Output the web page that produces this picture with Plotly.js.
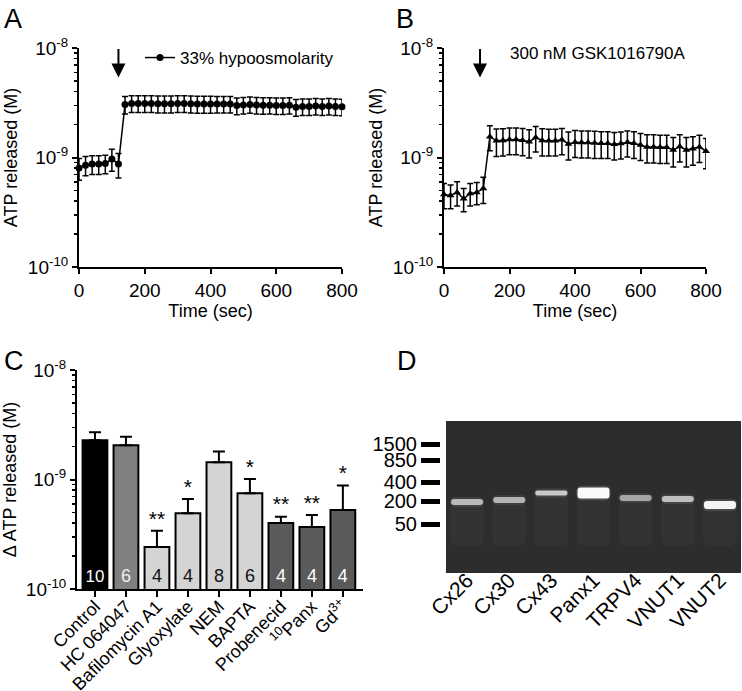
<!DOCTYPE html>
<html>
<head>
<meta charset="utf-8">
<script src="https://cdn.plot.ly/plotly-3.0.1.min.js"></script>
<style>
  html, body { margin: 0; padding: 0; background: #fff; }
  #chart { width: 742px; height: 691px; }
</style>
</head>
<body>
<div id="chart"></div>
<script>
// Panel A / B: time course (sec) of ATP released (M)
const timeSec = [0, 20, 40, 60, 80, 100, 120, 140, 160, 180, 200, 220, 240, 260, 280, 300, 320, 340, 360, 380, 400,
                 420, 440, 460, 480, 500, 520, 540, 560, 580, 600, 620, 640, 660, 680, 700, 720, 740, 760, 780, 800];

const hypoNM = [0.80, 0.85, 0.87, 0.87, 0.88, 0.97, 0.87, 3.05, 3.12, 3.12, 3.12, 3.12, 3.10, 3.10, 3.10, 3.12, 3.12, 3.10, 3.08, 3.08, 3.08,
                3.08, 3.08, 3.08, 2.98, 3.02, 3.05, 3.02, 3.00, 3.00, 2.98, 2.98, 3.00, 2.88, 2.92, 2.92, 2.95, 2.92, 2.95, 2.92, 2.90];
const hypoErrNM = [0.18, 0.17, 0.17, 0.17, 0.17, 0.22, 0.22, 0.55, 0.55, 0.55, 0.55, 0.55, 0.55, 0.55, 0.55, 0.55, 0.55, 0.55, 0.54, 0.54, 0.54,
                   0.53, 0.53, 0.53, 0.52, 0.52, 0.52, 0.52, 0.52, 0.51, 0.51, 0.51, 0.51, 0.50, 0.50, 0.50, 0.50, 0.50, 0.50, 0.50, 0.50];

const gskNM = [0.46, 0.45, 0.48, 0.42, 0.47, 0.48, 0.52, 1.55, 1.42, 1.43, 1.46, 1.46, 1.44, 1.39, 1.52, 1.43, 1.42, 1.42, 1.45, 1.33, 1.38,
               1.37, 1.37, 1.36, 1.35, 1.35, 1.32, 1.34, 1.38, 1.35, 1.30, 1.25, 1.25, 1.24, 1.24, 1.17, 1.26, 1.17, 1.20, 1.25, 1.14];
const gskErrNM = [0.12, 0.11, 0.12, 0.10, 0.11, 0.11, 0.14, 0.40, 0.40, 0.40, 0.40, 0.40, 0.40, 0.40, 0.40, 0.40, 0.39, 0.39, 0.39, 0.38, 0.38,
                  0.38, 0.38, 0.38, 0.37, 0.37, 0.37, 0.37, 0.37, 0.37, 0.36, 0.36, 0.36, 0.36, 0.36, 0.35, 0.35, 0.35, 0.35, 0.35, 0.35];

const arrowTimeA = 120;
const arrowTimeB = 110;

// Panel C: delta ATP released per treatment
const treatments = ['Control', 'HC 064047', 'Bafilomycin A1', 'Glyoxylate', 'NEM', 'BAPTA', 'Probenecid', '<sup>10</sup>Panx', 'Gd<sup>3+</sup>'];
const deltaNM = [2.28, 2.05, 0.242, 0.492, 1.44, 0.75, 0.40, 0.368, 0.527];
const deltaErrNM = [0.42, 0.41, 0.098, 0.173, 0.36, 0.26, 0.058, 0.107, 0.353];
const nCells = ['10', '6', '4', '4', '8', '6', '4', '4', '4'];
const signif = ['', '', '**', '*', '', '*', '**', '**', '*'];
const barColors = ['#000000', '#808080', '#d4d4d4', '#d4d4d4', '#d4d4d4', '#d4d4d4', '#5a5a5a', '#5a5a5a', '#5a5a5a'];
const nColors = ['#ffffff', '#eeeeee', '#111111', '#111111', '#111111', '#111111', '#ffffff', '#ffffff', '#ffffff'];

// Panel D: RT-PCR gel
const lanes = ['Cx26', 'Cx30', 'Cx43', 'Panx1', 'TRPV4', 'VNUT1', 'VNUT2'];
const bandMigration = [81, 79, 72, 72, 77, 78, 84];
const bandThickness = [6, 6, 5, 11, 6, 6, 8];
const bandIntensity = [185, 180, 200, 250, 165, 190, 245];
const ladderLabels = ['1500', '850', '400', '200', '50'];
const ladderMigration = [23, 39, 61, 80, 103];

const FONT = 'Liberation Sans, Arial, sans-serif';
const W = 742, H = 691;
const px = v => v / W;
const py = v => 1 - v / H;

const toM = arr => arr.map(v => v * 1e-9);
const decades = [1e-10, 1e-9, 1e-8];
const decadeText = ['10<sup>-10</sup>', '10<sup>-9</sup>', '10<sup>-8</sup>'];
const minorVals = [];
[1e-10, 1e-9].forEach(d => { for (let k = 2; k <= 9; k++) minorVals.push(k * d); });

function logAxis(domain, title) {
    return {
        domain: domain, type: 'log', range: [-10, -8],
        showline: true, linewidth: 2, linecolor: '#000',
        showgrid: false, zeroline: false,
        tickmode: 'array', tickvals: decades, ticktext: decadeText,
        ticks: 'outside', ticklen: 5, tickwidth: 2, tickcolor: '#000',
        minor: { tickmode: 'array', tickvals: minorVals, ticks: 'outside', ticklen: 3, tickwidth: 1.5, tickcolor: '#000', showgrid: false },
        tickfont: { size: 19, color: '#000' },
        title: { text: title, font: { size: 18, color: '#000' }, standoff: 6 }
    };
}

function timeAxis(domain) {
    return {
        domain: domain, range: [0, 800],
        showline: true, linewidth: 2, linecolor: '#000',
        showgrid: false, zeroline: false,
        tickmode: 'array', tickvals: [0, 200, 400, 600, 800],
        ticks: 'outside', ticklen: 5, tickwidth: 2, tickcolor: '#000',
        tickfont: { size: 19, color: '#000' },
        title: { text: 'Time (sec)', font: { size: 18, color: '#000' }, standoff: 2 }
    };
}

const traceA = {
    x: timeSec, y: toM(hypoNM), xaxis: 'x', yaxis: 'y',
    name: '33% hypoosmolarity', mode: 'lines+markers', type: 'scatter',
    line: { color: '#000', width: 1.5 },
    marker: { symbol: 'circle', size: 7, color: '#000' },
    error_y: { type: 'data', array: toM(hypoErrNM), color: '#000', thickness: 1.5, width: 3 },
    cliponaxis: false
};

const traceB = {
    x: timeSec, y: toM(gskNM), xaxis: 'x2', yaxis: 'y2',
    name: '300 nM GSK1016790A', showlegend: false, mode: 'lines+markers', type: 'scatter',
    line: { color: '#000', width: 1.5 },
    marker: { symbol: 'triangle-up', size: 7, color: '#000' },
    error_y: { type: 'data', array: toM(gskErrNM), color: '#000', thickness: 1.5, width: 3 },
    cliponaxis: false
};

const traceC = {
    x: treatments, y: toM(deltaNM), xaxis: 'x3', yaxis: 'y3',
    type: 'bar', showlegend: false, width: 0.8,
    marker: { color: barColors, line: { color: '#000', width: 2 } },
    error_y: { type: 'data', symmetric: false, array: toM(deltaErrNM), arrayminus: deltaNM.map(() => 0),
               color: '#000', thickness: 2, width: 6 },
    text: nCells, textposition: 'inside', insidetextanchor: 'start',
    textfont: { size: 18, color: nColors }, textangle: 0
};

const starsC = {
    x: treatments, y: deltaNM.map((v, i) => (v + deltaErrNM[i]) * 1e-9), xaxis: 'x3', yaxis: 'y3',
    type: 'scatter', mode: 'text', text: signif, textposition: 'top center',
    textfont: { size: 21, color: '#000' }, showlegend: false, cliponaxis: false
};

// gel: smear, glow and band as floating bars
const smearD = {
    x: lanes, base: bandMigration, y: bandMigration.map(m => 125 - m), xaxis: 'x4', yaxis: 'y4',
    type: 'bar', width: 0.8, showlegend: false,
    marker: { color: 'rgba(255,255,255,0.03)', line: { width: 0 }, cornerradius: 8 }
};
const glowD = {
    x: lanes, base: bandMigration.map((m, i) => m - bandThickness[i] / 2 - 2), y: bandThickness.map(t => t + 4),
    xaxis: 'x4', yaxis: 'y4', type: 'bar', width: 0.82, showlegend: false,
    marker: { color: bandIntensity.map(g => `rgba(${g},${g},${g},0.12)`), line: { width: 0 }, cornerradius: 5 }
};
const bandD = {
    x: lanes, base: bandMigration.map((m, i) => m - bandThickness[i] / 2), y: bandThickness,
    xaxis: 'x4', yaxis: 'y4', type: 'bar', width: 0.76, showlegend: false,
    marker: { color: bandIntensity.map(g => `rgb(${g},${g},${g})`), line: { width: 0 }, cornerradius: 3 }
};

const letter = (t, x, y) => ({
    text: t, xref: 'paper', yref: 'paper', x: px(x), y: py(y), xanchor: 'left', yanchor: 'top',
    showarrow: false, font: { size: 27, color: '#000' }
});

const layout = {
    width: W, height: H,
    margin: { l: 0, r: 0, t: 0, b: 0 },
    paper_bgcolor: '#fff', plot_bgcolor: 'rgba(0,0,0,0)',
    font: { family: FONT, color: '#000' },
    barmode: 'overlay', bargap: 0.2,
    xaxis: timeAxis([px(79), px(342)]),
    yaxis: logAxis([py(267), py(48)], 'ATP released (M)'),
    xaxis2: Object.assign(timeAxis([px(444), px(706)]), { anchor: 'y2' }),
    yaxis2: Object.assign(logAxis([py(267), py(48)], 'ATP released (M)'), { anchor: 'x2' }),
    xaxis3: {
        domain: [px(77), px(363)], anchor: 'y3', type: 'category', range: [-0.58, 8.65],
        showline: true, linewidth: 2, linecolor: '#000', showgrid: false, zeroline: false,
        ticks: 'outside', ticklen: 6, tickwidth: 2, tickcolor: '#000',
        tickangle: -45, tickfont: { size: 18, color: '#000' }, ticklabelstandoff: -8
    },
    yaxis3: Object.assign(logAxis([py(589), py(370)], '\u0394 ATP released (M)'), { anchor: 'x3' }),
    xaxis4: {
        domain: [px(446), px(741)], anchor: 'y4', type: 'category', range: [-0.5, 6.5],
        showline: false, showgrid: false, zeroline: false,
        ticks: '', tickangle: -45, tickfont: { size: 21, color: '#000' }, ticklabelstandoff: -10
    },
    yaxis4: {
        domain: [py(573), py(421)], anchor: 'free', position: px(440), range: [152, 0],
        showline: false, showgrid: false, zeroline: false,
        tickmode: 'array', tickvals: ladderMigration, ticktext: ladderLabels,
        ticks: 'outside', ticklen: 19, tickwidth: 5, tickcolor: '#000',
        tickfont: { size: 20, color: '#000' }
    },
    legend: {
        x: px(140), y: py(40), xanchor: 'left', yanchor: 'top',
        bgcolor: 'rgba(0,0,0,0)', font: { size: 17, color: '#000' }, itemwidth: 30
    },
    shapes: [{
        type: 'rect', xref: 'x4 domain', yref: 'y4 domain', x0: 0, x1: 1, y0: 0, y1: 1,
        fillcolor: '#2d2d2d', line: { width: 0 }, layer: 'below'
    }],
    annotations: [
        letter('A', 2, 2), letter('B', 394, 2), letter('C', 2, 344), letter('D', 395, 344),
        { text: '300 nM GSK1016790A', xref: 'paper', yref: 'paper', x: px(598), y: py(53),
          xanchor: 'center', yanchor: 'middle', showarrow: false, font: { size: 17, color: '#000' } },
        { text: '', xref: 'x', yref: 'y', x: arrowTimeA, y: -8.27, ax: 0, ay: -30,
          showarrow: true, arrowhead: 2, arrowsize: 1.4, arrowwidth: 2, arrowcolor: '#000' },
        { text: '', xref: 'x2', yref: 'y2', x: arrowTimeB, y: -8.27, ax: 0, ay: -30,
          showarrow: true, arrowhead: 2, arrowsize: 1.4, arrowwidth: 2, arrowcolor: '#000' }
    ]
};

Plotly.newPlot('chart', [traceA, traceB, traceC, starsC, smearD, glowD, bandD], layout, { displayModeBar: false, staticPlot: true });
</script>
</body>
</html>
